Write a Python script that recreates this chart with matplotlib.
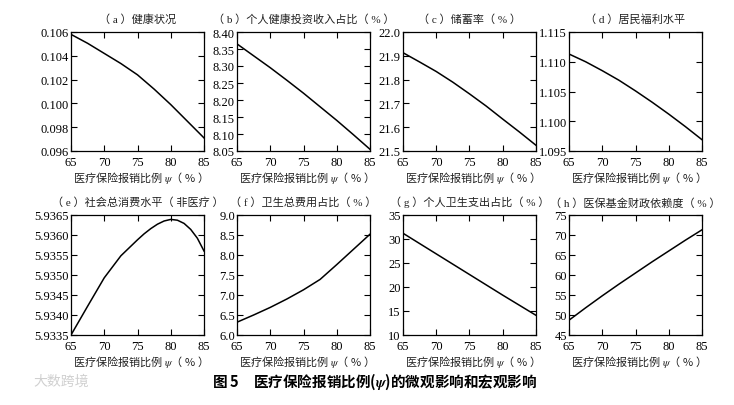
import numpy as np
import matplotlib
matplotlib.use("Agg")
import matplotlib.pyplot as plt

plt.rcParams['font.family'] = ['Liberation Serif', 'Noto Sans CJK SC']
plt.rcParams['mathtext.fontset'] = 'stix'

# reimbursement ratio psi (%)
psi = [65, 67.5, 70, 72.5, 75, 77.5, 80, 82.5, 85]
psi_e = [65, 67.5, 70, 72.5, 75, 76, 77, 78, 79, 80, 81, 82, 83, 84, 85]

health = [0.1058, 0.10505, 0.1042, 0.10335, 0.1024, 0.1012, 0.0999, 0.0985, 0.0971]
invest_share = [8.365, 8.330, 8.295, 8.258, 8.220, 8.180, 8.140, 8.098, 8.055]
saving_rate = [21.913, 21.874, 21.834, 21.789, 21.740, 21.689, 21.634, 21.580, 21.524]
welfare = [1.1113, 1.1100, 1.1085, 1.1069, 1.1051, 1.1032, 1.1012, 1.0991, 1.0969]
consumption = [5.9335, 5.93422, 5.93493, 5.93548, 5.93588, 5.93603, 5.93616, 5.93627,
               5.93635, 5.93639, 5.93637, 5.93629, 5.93614, 5.93592, 5.93560]
health_exp = [6.32, 6.50, 6.69, 6.90, 7.13, 7.39, 7.76, 8.14, 8.52]
oop_share = [31.2, 29.05, 26.9, 24.75, 22.6, 20.45, 18.3, 16.2, 14.1]
fiscal_dep = [48.7, 51.8, 54.8, 57.7, 60.5, 63.3, 66.0, 68.7, 71.3]

titles = ['（ a ）健康状况', '（ b ）个人健康投资收入占比（ % ）', '（ c ）储蓄率（ % ）',
          '（ d ）居民福利水平', '（ e ）社会总消费水平（ 非医疗 ）', '（ f ）卫生总费用占比（ % ）',
          '（ g ）个人卫生支出占比（ % ）', '（ h ）医保基金财政依赖度（ % ）']
series = [(psi, health), (psi, invest_share), (psi, saving_rate), (psi, welfare),
          (psi_e, consumption), (psi, health_exp), (psi, oop_share), (psi, fiscal_dep)]
yticks = [
    [0.096, 0.098, 0.100, 0.102, 0.104, 0.106],
    [8.05, 8.10, 8.15, 8.20, 8.25, 8.30, 8.35, 8.40],
    [21.5, 21.6, 21.7, 21.8, 21.9, 22.0],
    [1.095, 1.100, 1.105, 1.110, 1.115],
    [5.9335, 5.9340, 5.9345, 5.9350, 5.9355, 5.9360, 5.9365],
    [6.0, 6.5, 7.0, 7.5, 8.0, 8.5, 9.0],
    [10, 15, 20, 25, 30, 35],
    [45, 50, 55, 60, 65, 70, 75],
]
yfmt = ['%.3f', '%.2f', '%.1f', '%.3f', '%.4f', '%.1f', '%d', '%d']
xticks = [65, 70, 75, 80, 85]

W, H = 734, 406
fig = plt.figure(figsize=(W / 100, H / 100), dpi=100)

lefts = [71, 237, 403, 569]
rows = [(33, 152), (216, 336)]
xlabel = '医疗保险报销比例 $\\psi$（ % ）'

for i in range(8):
    r, c = divmod(i, 4)
    top, bot = rows[r]
    ax = fig.add_axes([lefts[c] / W, 1 - bot / H, 133 / W, (bot - top) / H])
    x, y = series[i]
    ax.plot(x, y, color='black', lw=1.1)
    ax.set_xlim(65, 85)
    ax.set_ylim(yticks[i][0], yticks[i][-1])
    ax.set_xticks(xticks)
    ax.set_yticks(yticks[i])
    ax.set_yticklabels([yfmt[i] % v for v in yticks[i]])
    ax.tick_params(direction='in', top=True, right=True, length=4, width=0.8,
                   labelsize=9)
    ax.tick_params(axis='x', pad=3.5)
    ax.tick_params(axis='y', pad=1.5)
    for s in ax.spines.values():
        s.set_linewidth(0.9)
    ax.set_title(titles[i], fontsize=8, pad=7, color='#222222')
    ax.set_xlabel(xlabel, fontsize=8, family='Noto Sans CJK SC', labelpad=1,
                  color='#222222')

fig.text(0.51, 1 - 382 / H, '图 5　医疗保险报销比例($\\boldsymbol{\\psi}$)的微观影响和宏观影响',
         ha='center', va='center', fontsize=10.5, fontweight='bold',
         family='Noto Sans CJK SC')
fig.text(0.045, 1 - 382 / H, '大数跨境', ha='left', va='center', fontsize=10,
         color='#d0d0d0', family='Noto Sans CJK SC')

fig.savefig('out.png', dpi=100)
